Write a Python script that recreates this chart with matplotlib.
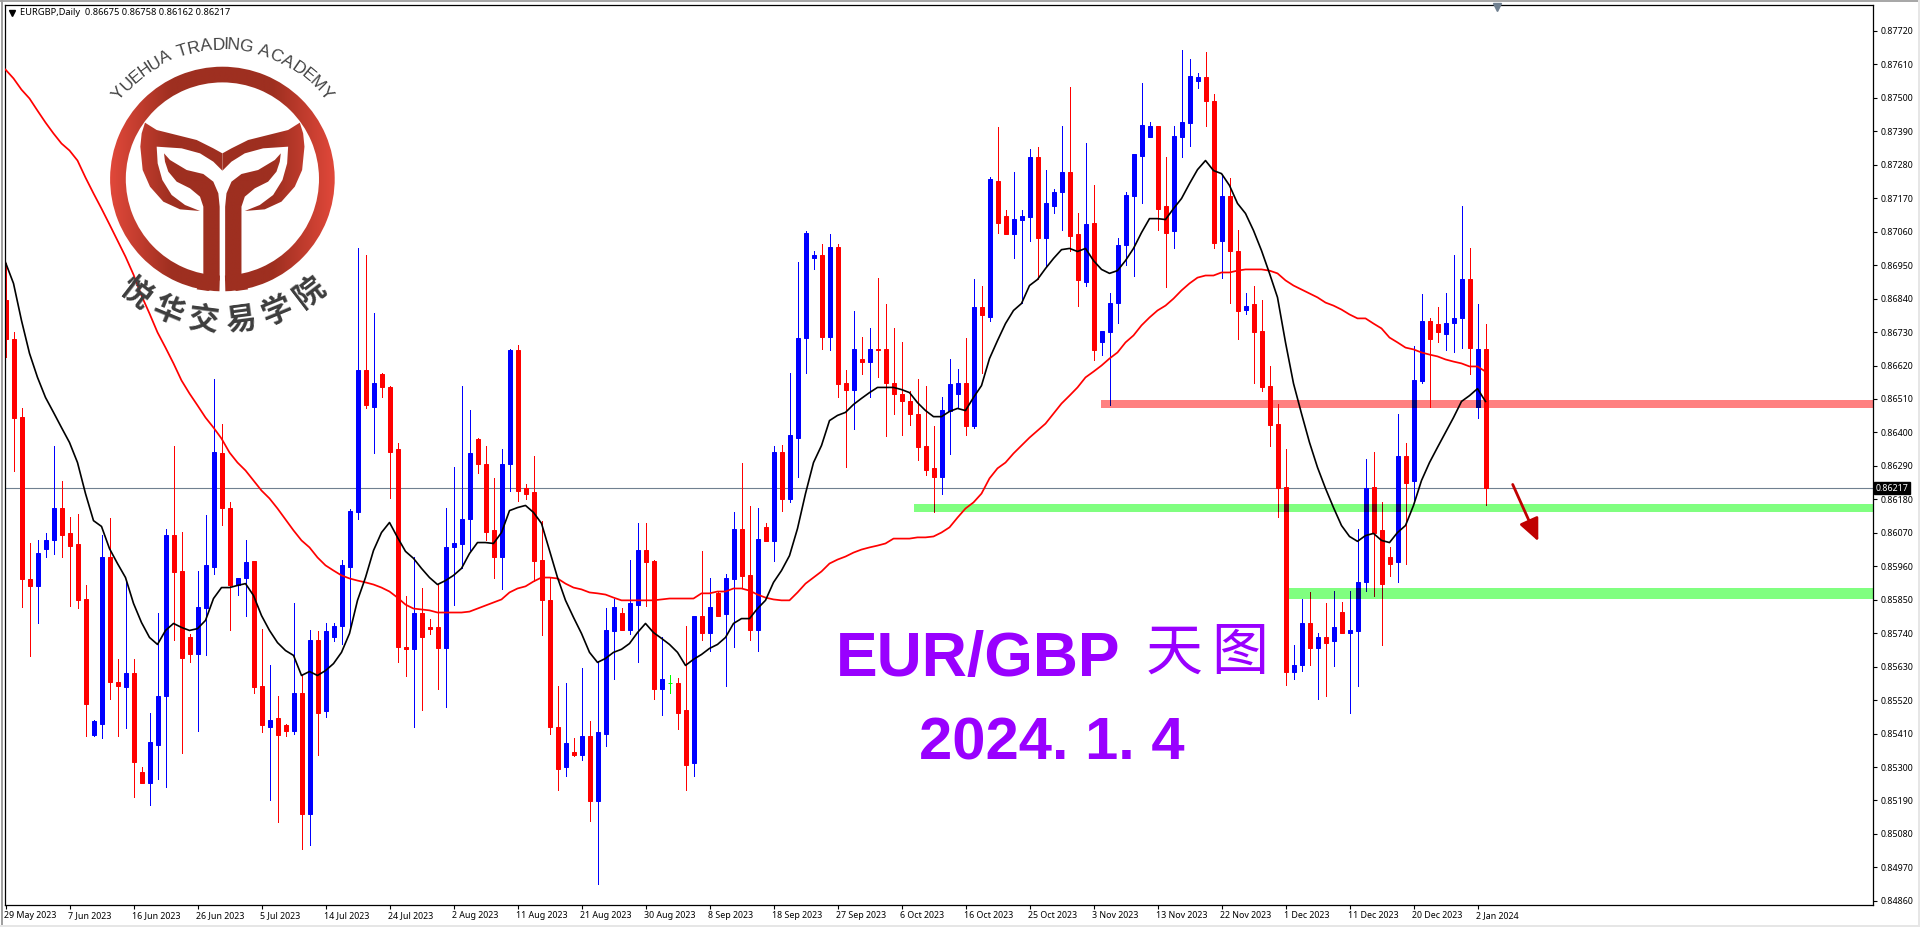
import matplotlib
matplotlib.use("Agg")
import matplotlib.pyplot as plt
import numpy as np
from matplotlib.patches import Rectangle, Polygon, Wedge
from matplotlib.textpath import TextPath
from matplotlib.font_manager import FontProperties
from matplotlib.transforms import ScaledTranslation

# prices in 1/100000
opens = [86837,86706,86452,85917,85894,86018,86048,86153,86068,86032,
         85851,85404,85443,85989,85581,85562,85608,85285,85249,85374,
         85532,86064,85943,85726,85670,85822,85959,86334,86153,85900,
         85920,85976,85565,85433,85460,85437,85417,85545,85144,85719,
         85483,85726,85765,85956,86137,86604,86485,86591,86548,86344,
         85696,85687,85808,85759,85759,85690,86022,86032,86114,86380,
         86295,86078,85989,86295,86670,86219,86203,85979,85848,85433,
         85299,85351,85341,85401,85187,85410,85746,85805,85752,85834,
         86012,85976,85558,85575,85575,85486,85312,85795,85739,85871,
         85802,85917,86081,85930,85752,86088,86042,86337,86180,86383,
         86712,86972,86982,86715,87011,86564,86538,86643,86633,86673,
         86673,86561,86528,86502,86462,86354,86282,86255,86472,86528,
         86564,86420,86811,86781,87228,87110,87054,87097,87107,87304,
         87038,87143,87189,87255,87051,86896,87087,86699,86729,86824,
         87015,87179,87310,87373,87409,87143,87061,87373,87416,87557,
         87567,87491,87028,87176,86998,86801,86821,86732,86554,86429,
         86222,85611,85634,85775,85690,85726,85713,85811,85742,85746,
         85907,86222,86078,85992,85973,86324,86239,86568,86768,86758,
         86725,86761,86775,86906,86485,86675]
closes = [86706,86449,85917,85894,86005,86048,86153,86064,86028,85848,
          85506,85450,85989,85578,85565,85608,85318,85249,85381,85535,
          86064,85940,85660,85670,85825,85963,86337,86150,85900,85923,
          85973,85562,85437,85456,85404,85417,85545,85144,85716,85479,
          85746,85765,85963,86143,86604,86489,86561,86548,86337,85693,
          85687,85805,85729,85755,85690,86025,86035,86117,86334,86295,
          86074,85989,86295,86670,86206,86196,85976,85848,85430,85295,
          85378,85341,85401,85187,85414,85752,85825,85752,85838,86015,
          85973,85558,85588,85575,85479,85308,85795,85739,85825,85798,
          85920,86081,85927,85752,86051,86042,86337,86180,86390,86712,
          87057,86982,86715,87011,86558,86538,86673,86633,86676,86670,
          86561,86528,86502,86462,86351,86278,86252,86475,86558,86561,
          86420,86811,86785,87232,87087,87051,87103,87110,87304,87038,
          87153,87192,87255,87047,86900,87084,86670,86732,86827,87015,
          87182,87314,87412,87409,87136,87057,87376,87422,87573,87567,
          87491,87024,87176,86995,86798,86817,86729,86551,86426,86219,
          85611,85637,85775,85690,85726,85709,85762,85742,85749,85907,
          86219,86071,85903,85969,86324,86235,86571,86768,86706,86729,
          86761,86775,86906,86679,86676,86217]
highs = [86956,86729,86479,86038,86048,86068,86357,86242,86123,86133,
         85900,85453,86064,86120,85654,85907,85654,85299,85476,85808,
         86081,86357,86074,85736,85943,86130,86577,86429,86170,85923,
         86048,85976,85755,85637,85535,85440,85838,85601,85749,85746,
         85775,85772,85979,86147,87008,86982,86794,86594,86554,86364,
         85861,85992,85887,85788,85903,86153,86285,86554,86475,86383,
         86357,86249,86344,86673,86686,86232,86321,86110,85923,85568,
         85575,85394,85624,85450,85647,85822,85854,85822,85982,86101,
         86101,85979,85726,85601,85594,85765,85798,86009,85923,85877,
         85936,86140,86301,86157,86153,86101,86354,86360,86594,86959,
         87061,86998,87018,87054,87018,86604,86798,86715,86745,86909,
         86821,86742,86696,86535,86577,86554,86420,86515,86643,86607,
         86712,86903,86880,87241,87403,87130,87255,87130,87333,87340,
         87264,87202,87409,87537,87120,87353,87212,86735,86857,87038,
         87192,87314,87550,87422,87409,87307,87406,87656,87629,87583,
         87652,87514,87251,87238,87067,86860,86880,86834,86620,86492,
         86344,85700,85851,85877,85739,85838,85880,85841,85880,86081,
         86314,86337,86170,86025,86462,86364,86683,86854,86775,86814,
         86860,86985,87146,87005,86821,86758]
lows = [86647,86272,85825,85664,85772,85992,85999,85989,85828,85822,
        85401,85401,85397,85525,85401,85427,85203,85249,85174,85262,
        85233,85716,85345,85644,85417,85667,85933,86097,85752,85867,
        85795,85542,85414,85193,85118,85401,85410,85029,85045,85338,
        85463,85713,85703,85759,86117,86482,86331,86518,86183,85644,
        85598,85433,85486,85736,85555,85496,85834,85953,86012,86268,
        86048,85920,85884,86206,86173,86180,85913,85733,85410,85223,
        85269,85335,85322,85124,84917,85368,85591,85749,85736,85644,
        85831,85525,85470,85545,85424,85226,85272,85716,85683,85798,
        85568,85693,85890,85719,85683,86042,85976,86143,86170,86255,
        86597,86939,86676,86670,86518,86288,86410,86591,86518,86581,
        86387,86462,86393,86423,86308,86259,86140,86199,86328,86479,
        86393,86416,86594,86765,87057,87051,86972,86824,87031,86903,
        86946,87123,87064,86998,86817,86883,86637,86653,86489,86761,
        86952,86916,87156,87373,87067,86877,87008,87304,87343,87534,
        87409,87008,86909,86824,86706,86788,86564,86535,86354,86123,
        85571,85588,85617,85634,85522,85535,85631,85739,85479,85565,
        85880,85861,85700,85927,85907,85969,86170,86561,86485,86696,
        86670,86663,86679,86591,86449,86162]
ma_black = [86959,86890,86768,86660,86581,86515,86466,86416,86367,86301,
            86199,86110,86091,86018,85969,85923,85838,85775,85726,85703,
            85749,85772,85759,85749,85755,85782,85854,85890,85890,85897,
            85903,85864,85798,85749,85709,85683,85667,85601,85614,85601,
            85617,85640,85677,85739,85848,85923,86012,86071,86104,86055,
            86009,85986,85953,85923,85900,85913,85930,85953,86002,86038,
            86038,86035,86071,86143,86153,86160,86137,86101,86012,85923,
            85848,85792,85739,85677,85644,85657,85677,85687,85706,85742,
            85772,85742,85723,85703,85677,85634,85654,85670,85690,85703,
            85726,85772,85788,85788,85821,85848,85907,85946,85995,86084,
            86199,86301,86357,86439,86456,86466,86492,86512,86531,86548,
            86548,86548,86541,86531,86498,86472,86452,86452,86469,86479,
            86472,86515,86554,86643,86702,86758,86801,86824,86883,86903,
            86939,86972,87001,87005,86995,87005,86965,86936,86923,86932,
            86965,87005,87057,87103,87103,87100,87136,87169,87218,87264,
            87294,87261,87251,87212,87153,87120,87064,86998,86923,86844,
            86696,86561,86462,86367,86285,86216,86153,86094,86058,86042,
            86061,86068,86045,86038,86071,86094,86160,86242,86301,86351,
            86400,86449,86502,86521,86544,86502]
ma_red = [87593,87564,87527,87498,87458,87419,87383,87350,87327,87294,
          87238,87186,87136,87084,87031,86978,86919,86850,86791,86729,
          86679,86627,86571,86528,86489,86449,86416,86380,86334,86301,
          86275,86242,86209,86183,86150,86114,86078,86045,86022,85989,
          85963,85946,85930,85920,85913,85907,85900,85890,85877,85857,
          85834,85821,85818,85815,85808,85808,85808,85808,85811,85821,
          85831,85841,85851,85874,85887,85894,85910,85923,85923,85920,
          85903,85890,85884,85874,85871,85867,85857,85848,85848,85848,
          85848,85848,85851,85854,85854,85854,85854,85871,85871,85877,
          85877,85887,85887,85880,85867,85857,85851,85848,85848,85874,
          85903,85923,85943,85969,85982,85992,86005,86015,86022,86028,
          86035,86051,86051,86051,86055,86055,86058,86071,86088,86120,
          86150,86170,86199,86249,86282,86301,86331,86357,86383,86406,
          86429,86462,86495,86521,86548,86581,86600,86620,86643,86663,
          86696,86719,86752,86778,86801,86817,86840,86867,86890,86909,
          86916,86916,86926,86926,86932,86936,86936,86936,86932,86923,
          86900,86883,86870,86857,86844,86827,86817,86804,86788,86775,
          86775,86758,86742,86712,86696,86679,86673,86663,86656,86650,
          86640,86633,86627,86617,86617,86600]
date_labels = ["29 May 2023","7 Jun 2023","16 Jun 2023","26 Jun 2023","5 Jul 2023",
               "14 Jul 2023","24 Jul 2023","2 Aug 2023","11 Aug 2023","21 Aug 2023",
               "30 Aug 2023","8 Sep 2023","18 Sep 2023","27 Sep 2023","6 Oct 2023",
               "16 Oct 2023","25 Oct 2023","3 Nov 2023","13 Nov 2023","22 Nov 2023",
               "1 Dec 2023","11 Dec 2023","20 Dec 2023","2 Jan 2024"]
price_ticks = [0.87720,0.87610,0.87500,0.87390,0.87280,0.87170,0.87060,0.86950,0.86840,
               0.86730,0.86620,0.86510,0.86400,0.86290,0.86180,0.86070,0.85960,0.85850,
               0.85740,0.85630,0.85520,0.85410,0.85300,0.85190,0.85080,0.84970,0.84860]
last_price = 0.86217
ohlc_title = "EURGBP,Daily  0.86675 0.86758 0.86162 0.86217"
# support / resistance zones: first candle position, low, high
zone_red = (136.9, 0.86479, 0.86508)
zone_green1 = (113.6, 0.86137, 0.86166)
zone_green2 = (160.4, 0.85851, 0.85887)
logo_top = "YUEHUA TRADING ACADEMY"
logo_bottom = "悦华交易学院"

W, H = 1920, 927
TICK_FONT = "Noto Sans"
TICK_SIZE = 6.4
BLUE, RED, GREEN = (0, 0, 1), (1, 0, 0), (0, 1, 0)

o = np.array(opens) / 1e5
c = np.array(closes) / 1e5
hi = np.array(highs) / 1e5
lo = np.array(lows) / 1e5
idx = np.arange(len(o))

fig = plt.figure(figsize=(W / 100, H / 100), dpi=100, facecolor="white")
ax = fig.add_axes([4.5 / W, 1 - 904.5 / H, 1868 / W, 900 / H])
ax.set_xlim(-0.125, 233.375)
ax.set_ylim(0.84848, 0.87807)


def mult(col, band):
    return tuple(a * b for a, b in zip(col, band))


def draw_candles(up, down, doji, zorder, clip=None):
    colors = [up if c[i] > o[i] else down if c[i] < o[i] else doji for i in idx]
    w = ax.vlines(idx, lo, hi, colors=colors, lw=0.72, zorder=zorder, antialiased=False)
    b = ax.bar(idx, np.abs(c - o), bottom=np.minimum(o, c), width=0.5, color=colors,
               edgecolor=colors, lw=0.72, zorder=zorder)
    if clip is not None:
        w.set_clip_path(clip)
        for p in b:
            p.set_clip_path(clip)


# zones go under the candles, overlapped pieces are redrawn darker
ax.axhline(last_price, color="#708090", lw=0.8, zorder=1)
draw_candles(BLUE, RED, GREEN, 2)
for (x0, y0, y1), band in [(zone_red, (1, .5, .5)), (zone_green1, (.5, 1, .5)), (zone_green2, (.5, 1, .5))]:
    z = Rectangle((x0, y0), 233.375 - x0, y1 - y0, facecolor=band, lw=0, zorder=1)
    ax.add_patch(z)
    draw_candles(mult(BLUE, band), mult(RED, band), mult(GREEN, band), 2.5, clip=z)

ax.plot(idx, np.array(ma_red) / 1e5, color="red", lw=1.25, zorder=3)
ax.plot(idx, np.array(ma_black) / 1e5, color="black", lw=1.2, zorder=3)

ax.annotate("", xy=(191.6, 0.86042), xytext=(188.4, 0.86229), zorder=4,
            arrowprops=dict(arrowstyle="-|>,head_length=0.8,head_width=0.36", color="#C00000",
                            lw=2.0, shrinkA=0, shrinkB=0, mutation_scale=17))

# axes
for s in ax.spines.values():
    s.set_linewidth(0.9)
ax.yaxis.tick_right()
ax.set_yticks(price_ticks)
ax.set_yticklabels([f"{p:.5f}" for p in price_ticks], fontsize=TICK_SIZE, family=TICK_FONT)
ax.set_xticks(idx[::8])
ax.set_xticklabels(date_labels, fontsize=TICK_SIZE, family=TICK_FONT, ha="left")
ax.tick_params(axis="y", length=3, width=0.8, pad=2.5)
ax.tick_params(axis="x", length=3, width=0.8, pad=2)
nudge = ScaledTranslation(-1.5 / 100, 0, fig.dpi_scale_trans)
for lab in ax.get_xticklabels():
    lab.set_transform(lab.get_transform() + nudge)
ax.text(1.0018, last_price, f"{last_price:.5f}", transform=ax.get_yaxis_transform(), color="white",
        fontsize=TICK_SIZE, family=TICK_FONT, va="center", ha="left", zorder=6,
        bbox=dict(facecolor="black", edgecolor="black", pad=1.2))

# overlay in pixel coordinates for the texts, logo and window frame
ov = fig.add_axes([0, 0, 1, 1], facecolor="none")
ov.set_axis_off()

ov.add_patch(Rectangle((0, 0), W, 2, color="#A8A8A8", lw=0))
ov.add_patch(Rectangle((1, 0), 2, H - 2, color="#A0A0A0", lw=0))
ov.add_patch(Rectangle((0, H - 2), W, 2, color="#E6E6E6", lw=0))
ov.add_patch(Rectangle((W - 2, 0), 2, H, color="#E6E6E6", lw=0))
ov.plot([1497], [6.5], marker="v", ms=6, color="#708090", lw=0, clip_on=False)
ov.plot([12], [12.5], marker="v", ms=4.5, color="black", lw=0)
ov.text(20, 12.5, ohlc_title, fontsize=6.7, family=TICK_FONT, va="center", ha="left")

# logo, outline numbers are in 1/3 px as measured on the crop
cx, cy = 222.4, 179.0
wing = np.array([(435,368),(470,390),(530,405),(590,420),(640,445),(667,460),(667,512),(640,485),
                 (600,460),(545,445),(470,440),(473,490),(487,540),(515,585),(555,615),(600,633),
                 (540,628),(490,605),(450,560),(428,510),(421,440),(425,400)]) / 3
stem = np.array([(492,460),(510,480),(560,510),(610,522),(640,545),(655,580),(659,620),(659,840),
                 (645,862),(625,873),(590,868),(610,825),(610,620),(600,590),(570,565),(530,545),
                 (505,515),(495,485)]) / 3
shapes = [Wedge((cx, cy), 112.3, 91.5, 448.5, width=15.7)]
for pts in (wing, stem):
    shapes.append(Polygon(pts, closed=True))
    shapes.append(Polygon(np.c_[2 * cx - pts[:, 0], pts[:, 1]], closed=True))
xs = np.linspace(110, 335, 226)
t = np.clip((np.abs(xs - cx) / 112 - 0.45) / 0.55, 0, 1)[None, :, None]
grad = (1 - t) * np.array([0x9E, 0x2F, 0x20]) / 255 + t * np.array([0xE0, 0x48, 0x3A]) / 255
for sh in shapes:
    sh.set(facecolor="none", edgecolor="none", transform=ov.transData)
    ov.add_patch(sh)
    im = ov.imshow(grad, extent=(110, 335, 300, 60), aspect="auto", zorder=5)
    im.set_clip_path(sh)

fp = FontProperties(family="Liberation Sans", size=12.5)
adv = [TextPath((0, 0), ch, prop=fp).get_extents().width + 1.1 if ch != " " else 3.6 for ch in logo_top]
ends = np.cumsum(adv)
ang = ((ends - np.array(adv) / 2) / ends[-1] - 0.5) * 106
for ch, a in zip(logo_top, ang):
    ov.text(cx + 134 * np.sin(np.radians(a)), cy - 134 * np.cos(np.radians(a)), ch, rotation=-a,
            rotation_mode="anchor", ha="center", va="center", fontsize=12.5,
            family="Liberation Sans", color="#444444", zorder=6)
for ch, a in zip(logo_bottom, [37.5, 22.5, 7.5, -7.5, -22.5, -37.5]):
    ov.text(cx - 143 * np.sin(np.radians(a)), cy + 143 * np.cos(np.radians(a)), ch, rotation=-a,
            rotation_mode="anchor", ha="center", va="center", fontsize=22,
            family="Noto Sans CJK SC", weight="black", color="#3D3D3D", zorder=6)

# big captions
PURPLE = "#9900FF"
ov.text(978, 676, "EUR/GBP", fontsize=45, weight="bold", family="Liberation Sans", color=PURPLE,
        ha="center", va="baseline", zorder=6)
ov.text(1174, 653, "天", fontsize=41, family="Noto Sans CJK SC", color=PURPLE, ha="center", va="center", zorder=6)
ov.text(1240, 653, "图", fontsize=41, family="Noto Sans CJK SC", color=PURPLE, ha="center", va="center", zorder=6)
ov.text(1052, 759, "2024. 1. 4", fontsize=43, weight="bold", family="Liberation Sans", color=PURPLE,
        ha="center", va="baseline", zorder=6)

ov.set_xlim(0, W)
ov.set_ylim(H, 0)

fig.savefig("out.png", dpi=100, facecolor="white")
